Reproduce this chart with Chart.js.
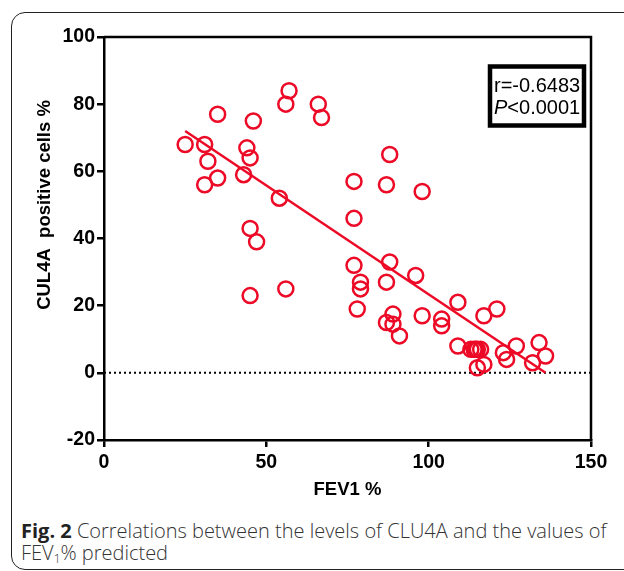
<!DOCTYPE html>
<html>
<head>
<meta charset="utf-8">
<script src="https://cdn.jsdelivr.net/npm/chart.js@4.4.0/dist/chart.umd.min.js"></script>
<style>
    html, body { margin: 0; padding: 0; background: #fff; }
    body { width: 624px; height: 571px; position: relative; overflow: hidden; }
    .frame {
        position: absolute; left: 11px; top: 12px; width: 640px; height: 556px;
        border: 1.5px solid #222; border-radius: 14px;
    }
    #chart { position: absolute; left: 0; top: 0; }
    .caption {
        position: absolute; left: 21px; top: 520px; width: 600px; white-space: nowrap;
        font-family: "Open Sans", "Noto Sans", sans-serif; font-size: 20px; font-weight: 300;
        line-height: 22px; color: #333;
    }
    .caption b { color: #222; font-weight: 700; }
</style>
</head>
<body>
<div class="frame"></div>
<canvas id="chart" width="624" height="510"></canvas>
<div class="caption"><b>Fig. 2</b> Correlations between the levels of CLU4A and the values of<br>FEV<sub style="font-size:12px;vertical-align:-3px;line-height:0">1</sub>% predicted</div>
<script>
// FEV1 % (x) vs CUL4A positive cells % (y), one entry per subject
var fevX = [57, 56, 35, 46, 25, 31, 44, 45, 32, 43, 35, 31, 54, 45, 47, 45, 56, 66, 67, 88,
    77, 87, 98, 77, 77, 88, 96, 79, 79, 87, 109, 78, 89, 87, 89, 91, 98, 104, 104, 117,
    121, 109, 113, 114, 114.5, 115, 116, 115, 117, 123, 124, 127, 134, 136, 132];
var cul4aY = [84, 80, 77, 75, 68, 68, 67, 64, 63, 59, 58, 56, 52, 43, 39, 23, 25, 80, 76, 65,
    57, 56, 54, 46, 32, 33, 29, 27, 25, 27, 21, 19, 17.5, 15, 14.5, 11, 17, 16, 14, 17,
    19, 8, 7, 7, 7, 7, 7, 1.5, 2.5, 6, 4, 8, 9, 5, 3];

// regression line end points
var fitX = [25, 136];
var fitY = [72, 0];

// dotted zero reference
var refX = [0, 150];
var refY = [0, 0];

var xTicks = [0, 50, 100, 150];
var yTicks = [-20, 0, 20, 40, 60, 80, 100];

var statsLines = ["r=-0.6483", "<0.0001"];

var RED = "#ec0a26";
var FONT = '"Liberation Sans", Arial, sans-serif';

function pairs(xs, ys) {
    return xs.map(function (x, i) { return { x: x, y: ys[i] }; });
}

var extras = {
    id: "extras",
    afterDraw: function (chart) {
        var ctx = chart.ctx;
        var a = chart.chartArea;
        ctx.save();
        // top and right frame of the plot
        ctx.strokeStyle = "#000";
        ctx.lineWidth = 2.5;
        ctx.beginPath();
        ctx.moveTo(a.left, a.top);
        ctx.lineTo(a.right, a.top);
        ctx.lineTo(a.right, a.bottom);
        ctx.stroke();

        // stats box
        ctx.lineWidth = 4.5;
        ctx.strokeRect(a.right - 101, a.top + 29.5, 94, 59);
        ctx.fillStyle = "#000";
        ctx.textBaseline = "middle";
        ctx.textAlign = "left";
        ctx.font = "20px " + FONT;
        ctx.fillText(statsLines[0], a.right - 97, a.top + 49);
        ctx.font = "italic 20px " + FONT;
        ctx.fillText("P", a.right - 97, a.top + 71);
        var pw = ctx.measureText("P").width;
        ctx.font = "20px " + FONT;
        ctx.fillText(statsLines[1], a.right - 97 + pw, a.top + 71);

        // y axis title
        ctx.translate(45, 205);
        ctx.rotate(-Math.PI / 2);
        ctx.textAlign = "center";
        ctx.font = "bold 18.5px " + FONT;
        ctx.fillText("CUL4A  positive cells %", 0, 0);
        ctx.restore();
    }
};

var tickFont = { family: FONT, size: 19.5, weight: "bold" };

new Chart(document.getElementById("chart"), {
    type: "scatter",
    data: {
        datasets: [
            {
                type: "line",
                data: pairs(refX, refY),
                borderColor: "#000",
                borderWidth: 2,
                borderDash: [2, 3],
                pointRadius: 0,
                order: 3
            },
            {
                data: pairs(fevX, cul4aY),
                pointStyle: "circle",
                pointRadius: 7.5,
                borderWidth: 2.5,
                borderColor: RED,
                backgroundColor: "rgba(0,0,0,0)",
                order: 2
            },
            {
                type: "line",
                data: pairs(fitX, fitY),
                borderColor: RED,
                borderWidth: 2.5,
                pointRadius: 0,
                order: 1
            }
        ]
    },
    options: {
        responsive: false,
        animation: false,
        layout: { padding: { left: 0, top: 37, right: 33, bottom: 0 } },
        plugins: { legend: { display: false }, tooltip: { enabled: false } },
        scales: {
            x: {
                type: "linear",
                min: 0,
                max: 150,
                afterBuildTicks: function (s) { s.ticks = xTicks.map(function (v) { return { value: v }; }); },
                afterFit: function (s) { s.height = 70; },
                border: { color: "#000", width: 2.5 },
                grid: { drawOnChartArea: false, color: "#000", lineWidth: 2.5, tickLength: 7 },
                ticks: { color: "#000", font: tickFont, padding: 4, maxRotation: 0 },
                title: {
                    display: true,
                    text: "FEV1 %",
                    color: "#000",
                    font: { family: FONT, size: 18.5, weight: "bold" },
                    padding: { top: 0, bottom: 9 }
                }
            },
            y: {
                type: "linear",
                min: -20,
                max: 100,
                afterBuildTicks: function (s) { s.ticks = yTicks.map(function (v) { return { value: v }; }); },
                afterFit: function (s) { s.width = 104; },
                border: { color: "#000", width: 2.5 },
                grid: { drawOnChartArea: false, color: "#000", lineWidth: 2.5, tickLength: 7 },
                ticks: { color: "#000", font: tickFont, padding: 2 }
            }
        }
    },
    plugins: [extras]
});
</script>
</body>
</html>
